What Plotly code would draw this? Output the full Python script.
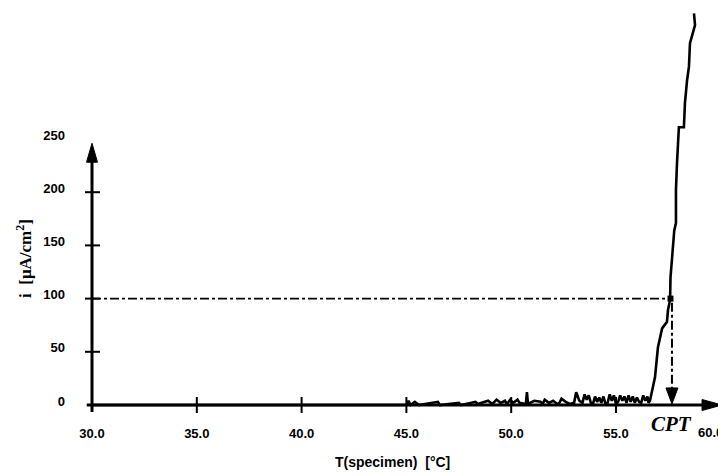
import plotly.graph_objects as go

# ---- data ----
temperature = [30.0, 45.0, 45.1, 45.2, 45.4, 45.6, 46.5, 46.6, 47.5, 47.6, 48.3, 48.4,
               48.9, 49.1, 49.3, 49.5, 49.7, 49.8, 49.95, 50.1, 50.3, 50.4, 50.7, 50.75,
               50.8, 51.1, 51.4, 51.5, 51.6, 51.8, 52.0, 52.2, 52.3, 52.4, 52.6, 52.8,
               53.0, 53.1, 53.25, 53.4, 53.5, 53.6, 53.7, 53.8, 53.9, 54.0, 54.1, 54.2,
               54.3, 54.4, 54.5, 54.6, 54.7, 54.8, 54.9, 55.0, 55.1, 55.2, 55.3, 55.4,
               55.5, 55.6, 55.7, 55.8, 55.9, 56.0, 56.1, 56.2, 56.3, 56.4, 56.5, 56.55,
               56.62, 56.75, 56.86, 57.0, 57.1, 57.2, 57.35, 57.43, 57.48, 57.58, 57.6,
               57.67, 57.78, 57.86, 57.86, 57.86, 57.91, 58.0, 58.24, 58.29, 58.39, 58.48,
               58.53, 58.67, 58.77, 58.72]
current = [0, 0, 4, 0, 3, 0, 3, 0, 2, 0, 3, 1,
           4, 1, 5, 2, 4, 1, 5, 2, 5, 2, 1, 12,
           1, 4, 3, 1, 5, 2, 4, 1, 2, 6, 3, 1,
           2, 12, 4, 2, 10, 5, 9, 2, 1, 8, 3, 7,
           2, 8, 1, 2, 10, 4, 9, 1, 3, 9, 4, 8,
           2, 9, 3, 8, 2, 7, 3, 2, 9, 4, 8, 2,
           4, 15, 26, 54, 62, 72, 76, 78, 89, 99, 120,
           139, 164, 171, 193, 202, 227, 261, 261, 284, 305, 318,
           340, 350, 357, 368]

x_tick_values = [30, 35, 40, 45, 50, 55]
x_tick_labels = ["30.0", "35.0", "40.0", "45.0", "50.0", "55.0"]
x_end_label = "60.0"
y_tick_values = [0, 50, 100, 150, 200, 250]
y_tick_labels = ["0", "50", "100", "150", "200", "250"]
threshold_current = 100
cpt_temperature = 57.67
cpt_label = "CPT"
x_title = "T(specimen)\u00a0\u00a0[°C]"
y_title = "i\u00a0\u00a0[μA/cm<sup>2</sup>]"

# ---- geometry (page body has an 8px margin) ----
PAGE_OFF = 8
W, H = 726 - PAGE_OFF, 476 - PAGE_OFF
PX_PER_T, T0_PX = 20.96, 92      # T = 30 at 92 px
PX_PER_I, I0_PX = 1.064, 405     # i = 0 at 405 px
X_RANGE = [30 - (T0_PX - PAGE_OFF) / PX_PER_T, 30 + (726 - T0_PX) / PX_PER_T]
Y_RANGE = [(I0_PX - 476) / PX_PER_I, (I0_PX - PAGE_OFF) / PX_PER_I]
x_axis_pos = (0 - Y_RANGE[0]) / (Y_RANGE[1] - Y_RANGE[0])
y_axis_pos = (30 - X_RANGE[0]) / (X_RANGE[1] - X_RANGE[0])


def px(xp):
    return (xp - PAGE_OFF) / W


def py(yp):
    return 1 - (yp - PAGE_OFF) / H


fig = go.Figure()
fig.add_trace(go.Scatter(x=temperature, y=current, mode="lines",
                         line=dict(color="black", width=2.6), showlegend=False,
                         hoverinfo="skip"))

shapes = []
# axis lines
shapes.append(dict(type="line", xref="x", yref="y", x0=29.75, y0=0, x1=59.7, y1=0,
                   line=dict(color="black", width=3)))
shapes.append(dict(type="line", xref="x", yref="y", x0=30, y0=-6.6, x1=30, y1=232,
                   line=dict(color="black", width=3)))
# arrow heads on axes (pixel-sized triangles)
shapes.append(dict(type="path", xref="x", yref="y", xsizemode="pixel", ysizemode="pixel",
                   xanchor=60.06, yanchor=0, path="M 0 0 L -20 5.5 L -20 -5.5 Z",
                   fillcolor="black", line=dict(color="black", width=1)))
shapes.append(dict(type="path", xref="x", yref="y", xsizemode="pixel", ysizemode="pixel",
                   xanchor=30, yanchor=246, path="M 0 0 L -5.5 -19 L 5.5 -19 Z",
                   fillcolor="black", line=dict(color="black", width=1)))
# tick marks crossing the axes
for xv in x_tick_values[1:]:
    shapes.append(dict(type="line", xref="x", yref="y", ysizemode="pixel", yanchor=0,
                       x0=xv, x1=xv, y0=-8, y1=8, line=dict(color="black", width=2)))
for yv in y_tick_values[1:-1]:
    shapes.append(dict(type="line", xref="x", yref="y", xsizemode="pixel", xanchor=30,
                       x0=-7, x1=8, y0=yv, y1=yv, line=dict(color="black", width=2)))
# dash-dot construction lines
shapes.append(dict(type="line", xref="x", yref="y", x0=30, y0=threshold_current,
                   x1=57.58, y1=threshold_current,
                   line=dict(color="black", width=1.6, dash="dashdot")))
shapes.append(dict(type="line", xref="x", yref="y", x0=cpt_temperature, y0=threshold_current - 4,
                   x1=cpt_temperature, y1=15,
                   line=dict(color="black", width=2, dash="dashdot")))
shapes.append(dict(type="path", xref="x", yref="y", xsizemode="pixel", ysizemode="pixel",
                   xanchor=cpt_temperature, yanchor=1, path="M 0 0 L -6 16 L 6 16 Z",
                   fillcolor="black", line=dict(color="black", width=1)))
shapes.append(dict(type="rect", xref="x", yref="y", xsizemode="pixel", ysizemode="pixel",
                   xanchor=57.6, yanchor=threshold_current, x0=-3, x1=3, y0=-3, y1=3,
                   fillcolor="black", line=dict(width=0)))

annotations = [
    dict(text=x_end_label, xref="paper", yref="paper", x=px(710), y=py(432),
         xanchor="center", yanchor="middle", showarrow=False,
         font=dict(family="Liberation Sans", size=13, color="black", weight="bold")),
    dict(text=cpt_label, xref="paper", yref="paper", x=px(671), y=py(424),
         xanchor="center", yanchor="middle", showarrow=False,
         font=dict(family="Liberation Serif", size=21, color="black", style="italic", weight="bold")),
    dict(text=x_title, xref="paper", yref="paper", x=px(392), y=py(462),
         xanchor="center", yanchor="middle", showarrow=False,
         font=dict(family="Liberation Sans", size=14, color="black", weight="bold")),
    dict(text=y_title, xref="paper", yref="paper", x=px(24), y=py(259),
         xanchor="center", yanchor="middle", textangle=-90, showarrow=False,
         font=dict(family="Liberation Serif", size=17, color="black", weight="bold")),
]

fig.update_layout(
    width=W, height=H,
    margin=dict(l=0, r=0, t=0, b=0),
    plot_bgcolor="white", paper_bgcolor="white",
    shapes=shapes, annotations=annotations,
    xaxis=dict(range=X_RANGE, domain=[0, 1], anchor="free", position=x_axis_pos,
               tickvals=x_tick_values, ticktext=x_tick_labels, ticks="",
               ticklabelstandoff=19, showgrid=False, zeroline=False, showline=False,
               tickfont=dict(family="Liberation Sans", size=13, color="black", weight="bold")),
    yaxis=dict(range=Y_RANGE, domain=[0, 1], anchor="free", position=y_axis_pos,
               tickvals=y_tick_values, ticktext=y_tick_labels, ticks="",
               ticklabelstandoff=27, ticklabelshift=-4, showgrid=False, zeroline=False, showline=False,
               tickfont=dict(family="Liberation Sans", size=13, color="black", weight="bold")),
)

fig.write_html("out.html")
